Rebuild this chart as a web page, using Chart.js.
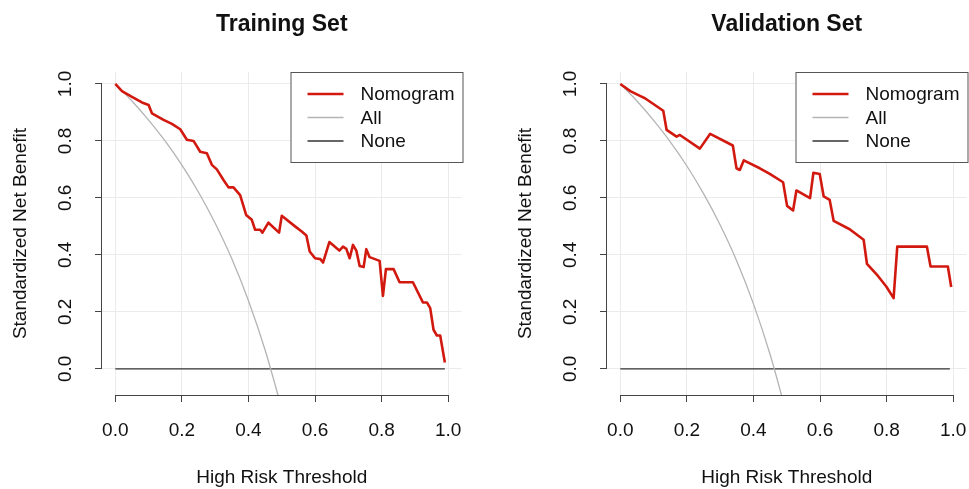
<!DOCTYPE html>
<html>
<head>
<meta charset="utf-8">
<script src="https://cdn.jsdelivr.net/npm/chart.js@4.4.1/dist/chart.umd.min.js"></script>
<style>
  body { margin: 0; background: #fff; overflow: hidden; }
  .panel { position: absolute; top: 0; height: 489px; overflow: hidden; }
</style>
</head>
<body>
<div class="panel" style="left:0;width:484px"><canvas id="train" width="484" height="489"></canvas></div>
<div class="panel" style="left:505px;width:464px"><canvas id="valid" width="484" height="489"></canvas></div>
<script>
const tickValues = [0, 0.2, 0.4, 0.6, 0.8, 1.0];
const legendLabels = ["Nomogram", "All", "None"];

// training set, nomogram curve
const trainThreshold = [0, 0.02, 0.05, 0.08, 0.10, 0.11, 0.145, 0.17, 0.195, 0.215, 0.235, 0.255, 0.275, 0.29, 0.305,
  0.325, 0.34, 0.355, 0.375, 0.393, 0.41, 0.42, 0.435, 0.442, 0.46, 0.492, 0.50, 0.54, 0.56, 0.574, 0.584, 0.60,
  0.616, 0.624, 0.643, 0.673, 0.684, 0.694, 0.704, 0.714, 0.724, 0.734, 0.746, 0.754, 0.764, 0.794, 0.804, 0.813,
  0.836, 0.854, 0.894, 0.924, 0.936, 0.946, 0.956, 0.966, 0.976, 0.99];
const trainNomogram = [1.0, 0.975, 0.955, 0.935, 0.926, 0.897, 0.874, 0.86, 0.841, 0.804, 0.80, 0.762, 0.757, 0.716, 0.70,
  0.663, 0.637, 0.637, 0.61, 0.54, 0.523, 0.488, 0.488, 0.478, 0.513, 0.478, 0.537, 0.50, 0.482, 0.468, 0.412, 0.388,
  0.385, 0.373, 0.445, 0.415, 0.429, 0.421, 0.388, 0.435, 0.415, 0.361, 0.357, 0.42, 0.392, 0.379, 0.256, 0.35,
  0.35, 0.304, 0.304, 0.233, 0.233, 0.213, 0.137, 0.117, 0.117, 0.022];

// validation set, nomogram curve
const validThreshold = [0, 0.03, 0.059, 0.074, 0.129, 0.139, 0.169, 0.179, 0.239, 0.27, 0.338, 0.349, 0.359, 0.371,
  0.419, 0.449, 0.489, 0.501, 0.519, 0.529, 0.57, 0.58, 0.599, 0.611, 0.629, 0.641, 0.689, 0.731, 0.741, 0.774,
  0.799, 0.821, 0.832, 0.921, 0.932, 0.984, 0.994];
const validNomogram = [1.0, 0.975, 0.958, 0.95, 0.906, 0.839, 0.815, 0.821, 0.773, 0.825, 0.784, 0.704, 0.698, 0.732,
  0.704, 0.684, 0.655, 0.572, 0.556, 0.626, 0.599, 0.688, 0.684, 0.605, 0.593, 0.519, 0.49, 0.453, 0.368, 0.326,
  0.289, 0.248, 0.429, 0.429, 0.359, 0.359, 0.287];

// "treat all" curves
const allThreshold = [0, 0.05, 0.1, 0.15, 0.2, 0.25, 0.3, 0.35, 0.4, 0.45, 0.5];
const trainAll = [1.0, 0.94, 0.873, 0.799, 0.715, 0.62, 0.511, 0.386, 0.239, 0.066, -0.14];
const validAll = [1.0, 0.94, 0.872, 0.797, 0.712, 0.615, 0.505, 0.378, 0.228, 0.05, -0.16];

// "treat none"
const noneThreshold = [0, 0.99];
const noneValues = [0, 0];

const FONT = '"Liberation Sans", Arial, Helvetica, sans-serif';
const RED = "#d2190f";
const GREY = "#b4b4b4";
const DARK = "#333333";

function pts(xs, ys) {
  return xs.map((x, i) => ({ x: x, y: ys[i] }));
}

const decor = {
  id: "decor",
  afterDraw(chart, args, opts) {
    const ctx = chart.ctx;
    const a = chart.chartArea;
    const x = chart.scales.x, y = chart.scales.y;
    ctx.save();

    // R style axis lines, only across the tick range
    ctx.strokeStyle = "#444";
    ctx.lineWidth = 1;
    ctx.beginPath();
    ctx.moveTo(x.getPixelForValue(0), a.bottom + 0.5);
    ctx.lineTo(x.getPixelForValue(1), a.bottom + 0.5);
    ctx.moveTo(a.left - 0.5, y.getPixelForValue(0));
    ctx.lineTo(a.left - 0.5, y.getPixelForValue(1));
    ctx.stroke();

    // rotated y tick labels
    ctx.fillStyle = "#111";
    ctx.font = "19px " + FONT;
    ctx.textAlign = "center";
    ctx.textBaseline = "middle";
    tickValues.forEach(v => {
      ctx.save();
      ctx.translate(66, y.getPixelForValue(v));
      ctx.rotate(-Math.PI / 2);
      ctx.fillText(v.toFixed(1), 0, 0);
      ctx.restore();
    });

    // axis titles
    ctx.fillText("High Risk Threshold", (a.left + a.right) / 2, 478);
    ctx.save();
    ctx.translate(21, (a.top + a.bottom) / 2);
    ctx.rotate(-Math.PI / 2);
    ctx.fillText("Standardized Net Benefit", 0, 0);
    ctx.restore();

    // main title
    ctx.font = "bold 23px " + FONT;
    ctx.fillText(opts.title, (a.left + a.right) / 2, 25);

    // legend box in the top right corner
    const lx = a.right - 171, ly = a.top, lw = 172, lh = 90;
    ctx.fillStyle = "#fff";
    ctx.fillRect(lx, ly, lw, lh);
    ctx.strokeStyle = "#555";
    ctx.strokeRect(lx + 0.5, ly + 0.5, lw, lh);
    const colors = [RED, GREY, DARK];
    const widths = [2.6, 1.3, 1.3];
    ctx.font = "19px " + FONT;
    ctx.textAlign = "left";
    legendLabels.forEach((lab, i) => {
      const ry = ly + 22 + i * 23.5;
      ctx.strokeStyle = colors[i];
      ctx.lineWidth = widths[i];
      ctx.beginPath();
      ctx.moveTo(lx + 17, ry);
      ctx.lineTo(lx + 53, ry);
      ctx.stroke();
      ctx.fillStyle = "#111";
      ctx.fillText(lab, lx + 70, ry + 1);
    });
    ctx.restore();
  }
};

function makeChart(id, title, xs, ys, allYs) {
  return new Chart(document.getElementById(id), {
    type: "line",
    data: {
      datasets: [
        { label: legendLabels[0], data: pts(xs, ys), borderColor: RED, borderWidth: 2.6,
          pointRadius: 0, tension: 0, borderJoinStyle: "round" },
        { label: legendLabels[1], data: pts(allThreshold, allYs), borderColor: GREY, borderWidth: 1.3,
          pointRadius: 0, cubicInterpolationMode: "monotone" },
        { label: legendLabels[2], data: pts(noneThreshold, noneValues), borderColor: DARK, borderWidth: 1.3,
          pointRadius: 0 }
      ]
    },
    options: {
      responsive: false,
      animation: false,
      events: [],
      layout: { padding: { left: 0, right: 22.5, top: 72, bottom: 0 } },
      plugins: { legend: { display: false }, tooltip: { enabled: false }, decor: { title: title } },
      scales: {
        x: {
          type: "linear", min: -0.04, max: 1.04,
          afterBuildTicks: s => { s.ticks = tickValues.map(v => ({ value: v })); },
          afterFit: s => { s.height = 94; },
          grid: { color: "#ebebeb", tickColor: "#444", tickLength: 7 },
          border: { display: false },
          ticks: { color: "#111", padding: 17, font: { family: FONT, size: 19 },
            callback: v => Number(v).toFixed(1), maxRotation: 0, autoSkip: false }
        },
        y: {
          type: "linear", min: -0.092, max: 1.042,
          afterBuildTicks: s => { s.ticks = tickValues.map(v => ({ value: v })); },
          afterFit: s => { s.width = 102; },
          grid: { color: "#ebebeb", tickColor: "#444", tickLength: 7 },
          border: { display: false },
          ticks: { display: false }
        }
      }
    },
    plugins: [decor]
  });
}

makeChart("train", "Training Set", trainThreshold, trainNomogram, trainAll);
makeChart("valid", "Validation Set", validThreshold, validNomogram, validAll);
</script>
</body>
</html>
